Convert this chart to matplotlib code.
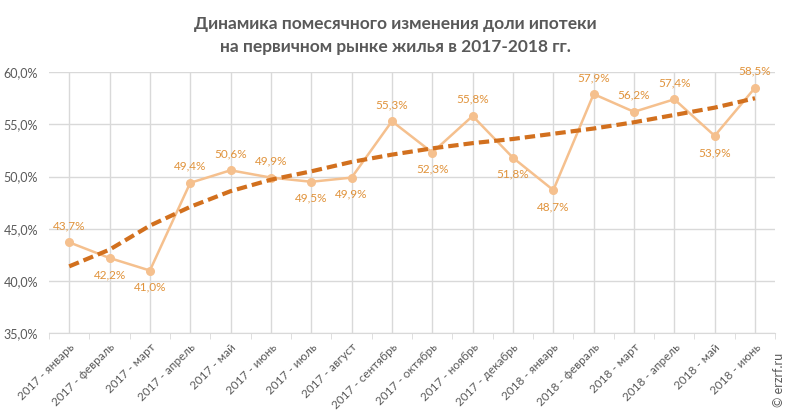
import numpy as np
import matplotlib
matplotlib.use('Agg')
import matplotlib.pyplot as plt

months = ['2017 - январь', '2017 - февраль', '2017 - март', '2017 - апрель', '2017 - май',
          '2017 - июнь', '2017 - июль', '2017 - август', '2017 - сентябрь', '2017 - октябрь',
          '2017 - ноябрь', '2017 - декабрь', '2018 - январь', '2018 - февраль', '2018 - март',
          '2018 - апрель', '2018 - май', '2018 - июнь']
share = [43.7, 42.2, 41.0, 49.4, 50.6, 49.9, 49.5, 49.9, 55.3, 52.3,
         55.8, 51.8, 48.7, 57.9, 56.2, 57.4, 53.9, 58.5]
# trend line values
trend = [41.4, 43.0, 45.3, 47.1, 48.6, 49.7, 50.5, 51.4, 52.1, 52.7,
         53.2, 53.6, 54.1, 54.6, 55.2, 55.9, 56.6, 57.5]
label_above = [True, False, False, True, True, True, False, False, True, False,
               True, False, False, True, True, True, False, True]

plt.rcParams['font.family'] = ['Lato', 'DejaVu Sans']

line_col = '#F5C08E'
lab_col = '#E0923A'
trend_col = '#D2701E'
txt_col = '#595959'
grid_col = '#D9D9D9'

x = np.arange(len(share))

fig = plt.figure(figsize=(7.91, 4.17), dpi=100)
ax = fig.add_axes([0.062, 0.201, 0.918, 0.626])

ax.plot(x, share, color=line_col, lw=1.8, marker='o', ms=5.5, zorder=3)
ax.plot(x, trend, color=trend_col, lw=3, ls=(0, (2.5, 1.2)), zorder=4)

for xi, v, up in zip(x, share, label_above):
    txt = f'{v:.1f}%'.replace('.', ',')
    ax.annotate(txt, (xi, v), xytext=(0, 8 if up else -8), textcoords='offset points',
                ha='center', va='bottom' if up else 'top', fontsize=8.5, color=lab_col)

ax.set_xlim(-0.5, len(share) - 0.5)
ax.set_ylim(35, 60)
yt = np.arange(35, 60.1, 5)
ax.set_yticks(yt)
ax.set_yticklabels([f'{v:.1f}%'.replace('.', ',') for v in yt], fontsize=9, color=txt_col)
ax.set_xticks(x)
ax.set_xticklabels(months, rotation=45, ha='right', rotation_mode='anchor',
                   fontsize=8.5, color=txt_col)
ax.set_xticks(np.arange(-0.5, len(share), 1), minor=True)
ax.tick_params(axis='x', which='major', length=0, pad=6)
ax.tick_params(axis='x', which='minor', length=4, color=grid_col)
ax.tick_params(axis='y', length=0, pad=8)

ax.grid(True, which='major', color=grid_col, lw=1)
ax.set_axisbelow(True)
for s in ['top', 'right', 'left']:
    ax.spines[s].set_visible(False)
ax.spines['bottom'].set_color(grid_col)

fig.text(0.5, 0.915, 'Динамика помесячного изменения доли ипотеки\nна первичном рынке жилья в 2017-2018 гг.',
         ha='center', va='center', fontsize=12.5, fontweight='bold', color=txt_col, linespacing=1.5)
fig.text(0.985, 0.088, '© erzrf.ru', rotation=90, ha='center', va='center', fontsize=9, color=txt_col)

fig.savefig('out.png', dpi=100)
